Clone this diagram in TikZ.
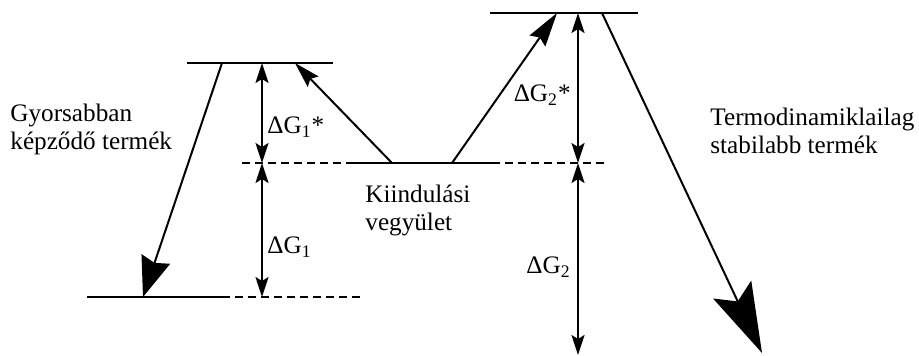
\documentclass[tikz,border=0pt]{standalone}
\usepackage{fontspec}
\setmainfont{Liberation Serif}
\usetikzlibrary{arrows.meta}

\begin{document}
\begin{tikzpicture}[
    x=0.5pt,y=-0.5pt,
    level/.style={line width=1pt},
    guide/.style={line width=1pt,dash pattern=on 4pt off 2.5pt},
    gap/.style={line width=1pt,
      {Stealth[length=10pt,width=6.5pt,inset=2pt]}-{Stealth[length=10pt,width=6.5pt,inset=2pt]}},
    path/.style={line width=1pt},
    txt/.style={font=\fontsize{12.6}{14}\selectfont,align=left,inner sep=0pt}]
  \useasboundingbox (0,0) rectangle (919,356);
  % energy levels
  \coordinate (kinL) at (187,63);   \coordinate (kinR) at (333,63);
  \coordinate (kinP) at (87,297);   \coordinate (kinQ) at (222,297);
  \coordinate (kinD) at (360,297);
  \coordinate (startA) at (242,163); \coordinate (startL) at (350,163);
  \coordinate (startR) at (492,163); \coordinate (startB) at (605,163);
  \coordinate (thL) at (490,13);    \coordinate (thR) at (638,13);
  \draw[level] (kinL) -- (kinR);
  \draw[level] (kinP) -- (kinQ);
  \draw[guide] (kinQ) -- (kinD);
  \draw[guide] (startA) -- (startL);
  \draw[level] (startL) -- (startR);
  \draw[guide] (startR) -- (startB);
  \draw[level] (thL) -- (thR);
  % energy gaps
  \coordinate (g1top) at (262,63);  \coordinate (g1mid) at (262,163);
  \coordinate (g1bot) at (262,297);
  \coordinate (g2top) at (578,13);  \coordinate (g2mid) at (578,163);
  \coordinate (g2bot) at (578,355);
  \draw[gap] (g1top) -- (g1mid);
  \draw[gap] (g1mid) -- (g1bot);
  \draw[gap] (g2top) -- (g2mid);
  \draw[gap] (g2mid) -- (g2bot);
  % reaction paths
  \coordinate (up1from) at (392,163); \coordinate (up1to) at (295,63);
  \coordinate (up2from) at (452,163); \coordinate (up2to) at (557,13);
  \coordinate (dn1from) at (222,63);  \coordinate (dn1to) at (143,297);
  \coordinate (dn2from) at (602,13);  \coordinate (dn2to) at (762,353);
  \draw[path,-{Stealth[length=13pt,width=7.5pt,inset=2pt]}] (up1from) -- (up1to);
  \draw[path,-{Stealth[length=17pt,width=9.5pt,inset=2pt]}] (up2from) -- (up2to);
  \draw[path,-{Stealth[length=20pt,width=15pt,inset=2pt]}] (dn1from) -- (dn1to);
  \draw[path,-{Stealth[length=35pt,width=21pt,inset=6.5pt]}] (dn2from) -- (dn2to);
  % labels
  \node[txt,anchor=west] (g1act) at (267,127) {ΔG\textsubscript{1}*};
  \node[txt,anchor=west] (g1) at (267,247) {ΔG\textsubscript{1}};
  \node[txt,anchor=east] (g2act) at (571,95) {ΔG\textsubscript{2}*};
  \node[txt,anchor=east] (g2) at (571,267) {ΔG\textsubscript{2}};
  \node[txt,anchor=west] (fast) at (10,129) {Gyorsabban\\képződő termék};
  \node[txt,anchor=west] (start) at (365,210) {Kiindulási\\vegyület};
  \node[txt,anchor=west] (stable) at (710,131) {Termodinamiklailag\\stabilabb termék};
\end{tikzpicture}
\end{document}
